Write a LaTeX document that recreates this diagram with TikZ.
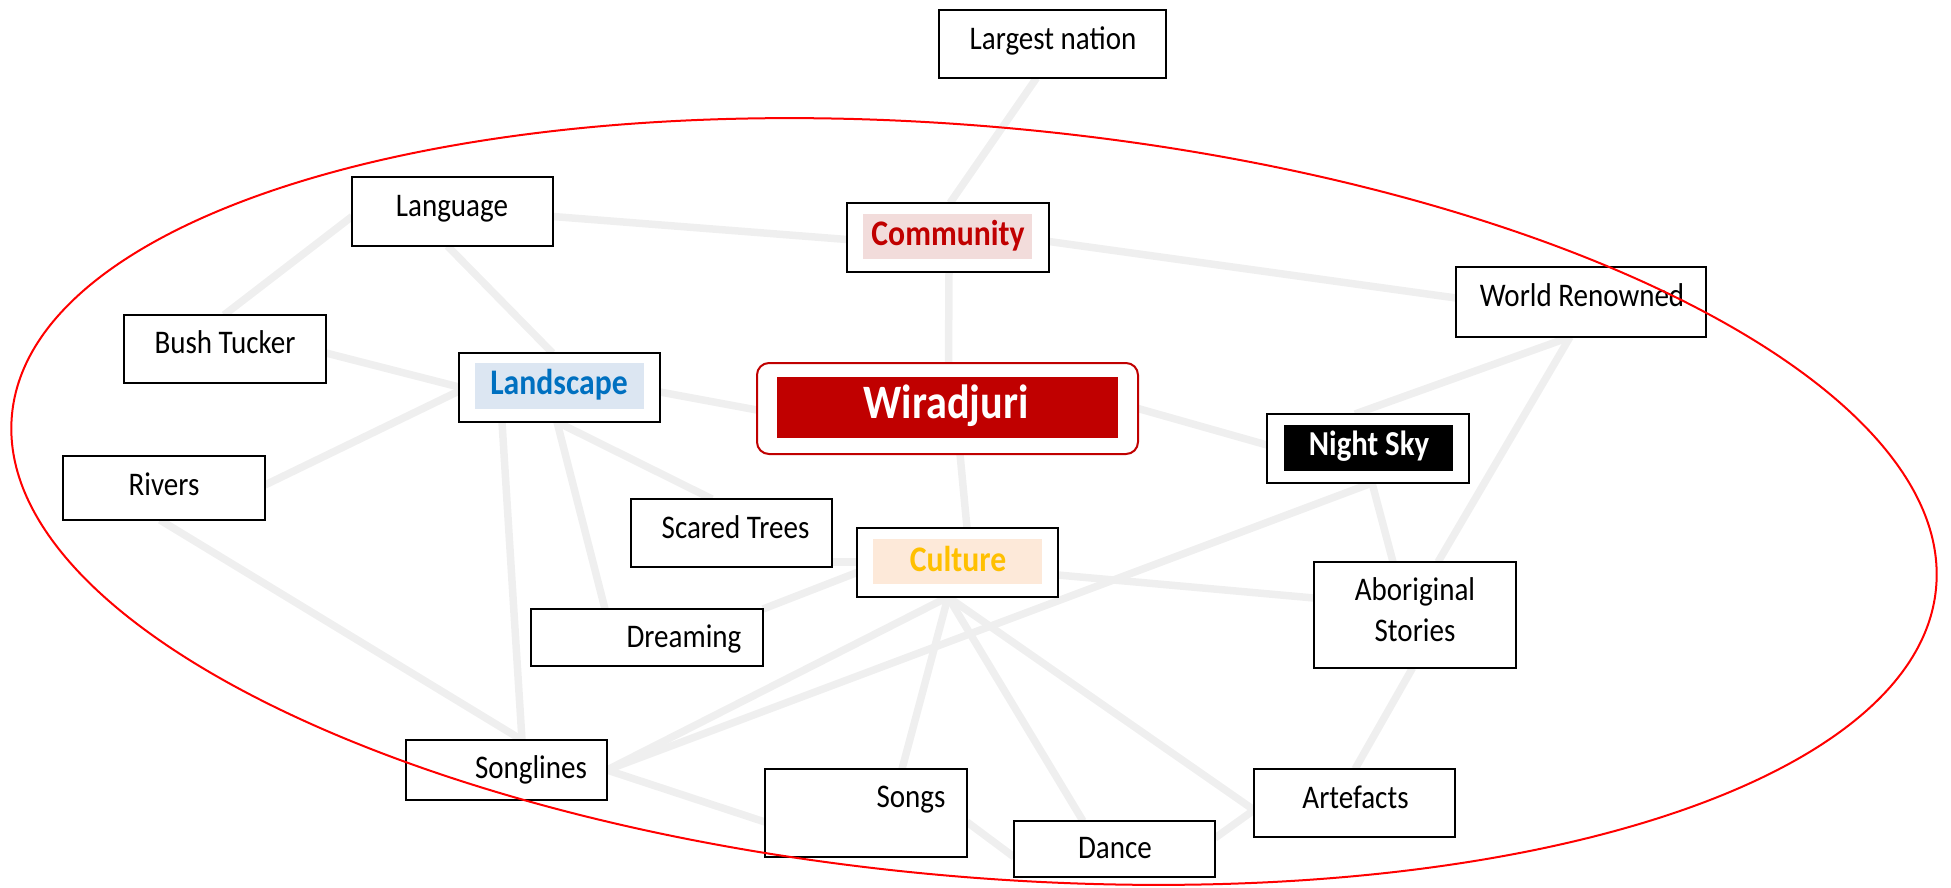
\documentclass[tikz,border=0pt]{standalone}
\usepackage{fontspec}
\setmainfont{Carlito}[FakeStretch=0.88]
\usetikzlibrary{calc}
\definecolor{linkgray}{RGB}{239,239,239}
\definecolor{wred}{RGB}{192,0,0}
\definecolor{commfill}{RGB}{242,220,219}
\definecolor{landfill}{RGB}{220,230,242}
\definecolor{landtext}{RGB}{0,112,192}
\definecolor{cultfill}{RGB}{253,233,217}
\definecolor{culttext}{RGB}{255,192,0}
\pgfdeclarelayer{links}
\pgfsetlayers{links,main}

\begin{document}
\begin{tikzpicture}[x=1pt,y=-1pt,
  box/.style={draw=black, line width=2pt, fill=white, inner sep=0pt, outer sep=0pt},
  link/.style={draw=linkgray, line width=7.5pt},
  lbl/.style={anchor=base, inner sep=0pt, font=\fontsize{33}{40}\selectfont},
  keylbl/.style={anchor=base, inner sep=0pt, font=\fontsize{36}{44}\selectfont\bfseries},
  hl/.style={inner sep=0pt, outer sep=0pt},
]
\useasboundingbox (0,0) rectangle (1951,887);

% ---- boxes (placed first so the links can refer to them) ----
\path
  node[box, minimum width=227pt, minimum height=68pt] (largest)    at (1052.5,44)  {}
  node[box, minimum width=201pt, minimum height=69pt] (language)   at (452.5,211.5) {}
  node[box, minimum width=202pt, minimum height=69pt] (community)  at (948,237.5)  {}
  node[box, minimum width=250pt, minimum height=70pt] (world)      at (1581,302)   {}
  node[box, minimum width=202pt, minimum height=68pt] (bush)       at (225,349)    {}
  node[box, minimum width=202pt, minimum height=64pt] (rivers)     at (164,488)    {}
  node[box, minimum width=201pt, minimum height=69pt] (landscape)  at (559.5,387.5) {}
  node[box, draw=wred, rounded corners=12pt, minimum width=381pt, minimum height=91pt] (wiradjuri) at (947.5,408.5) {}
  node[box, minimum width=202pt, minimum height=69pt] (nightsky)   at (1368,448.5) {}
  node[box, minimum width=201pt, minimum height=68pt] (scared)     at (731.5,533)  {}
  node[box, minimum width=201pt, minimum height=69pt] (culture)    at (957.5,562.5) {}
  node[box, minimum width=232pt, minimum height=57pt] (dreaming)   at (647,637.5)  {}
  node[box, minimum width=202pt, minimum height=106pt] (aboriginal) at (1415,615)  {}
  node[box, minimum width=201pt, minimum height=60pt] (songlines)  at (506.5,770)  {}
  node[box, minimum width=202pt, minimum height=88pt] (songs)      at (866,813)    {}
  node[box, minimum width=201pt, minimum height=56pt] (dance)      at (1114.5,849) {}
  node[box, minimum width=201pt, minimum height=68pt] (artefacts)  at (1354.5,803) {};

% ---- links, drawn underneath the boxes ----
\begin{pgfonlayer}{links}
\draw[link] ($(largest.south)+(-16,0)$) -- ($(community.north)+(2,0)$);
\draw[link] ($(language.east)+(0,5)$) -- ($(community.west)+(0,2)$);
\draw[link] ($(community.east)+(0,4)$) -- ($(world.west)+(0,-4)$);
\draw[link] ($(community.south)+(1,0)$) -- ($(wiradjuri.north)+(1,0)$);
\draw[link] ($(language.west)+(0,5)$) -- ($(bush.north)+(-1,0)$);
\draw[link] ($(language.south)+(-5,0)$) -- ($(landscape.north)+(-7,0)$);
\draw[link] ($(bush.east)+(0,4)$) -- ($(landscape.west)+(0,-0.5)$);
\draw[link] ($(landscape.west)+(0,3.5)$) -- ($(rivers.east)+(0,-3)$);
\draw[link] ($(landscape.east)+(0,4.5)$) -- ($(wiradjuri.west)+(0,1.5)$);
\draw[link] (wiradjuri.east) -- ($(nightsky.west)+(0,-3.5)$);
\draw[link] ($(world.south)+(-11,0)$) -- ($(nightsky.north)+(-13,0)$);
\draw[link] ($(world.south)+(-11,0)$) -- ($(aboriginal.north)+(23,0)$);
\draw[link] ($(nightsky.south)+(4,0)$) -- ($(aboriginal.north)+(-22,0)$);
\draw[link] ($(nightsky.south)+(4,0)$) -- (songlines.east);
\draw[link] ($(wiradjuri.south)+(12.5,0)$) -- ($(culture.north)+(9.5,0)$);
\draw[link] ($(landscape.south)+(-2.5,0)$) -- ($(scared.north)+(-19.5,0)$);
\draw[link] ($(landscape.south)+(-2.5,0)$) -- ($(dreaming.north)+(-42,0)$);
\draw[link] ($(landscape.south)+(-57.5,0)$) -- ($(songlines.north)+(15.5,0)$);
\draw[link] ($(rivers.south)+(-4,0)$) -- ($(songlines.north)+(15.5,0)$);
\draw[link] ($(culture.east)+(0,12.5)$) -- ($(aboriginal.west)+(0,-17)$);
\draw[link] ($(culture.west)+(0,10)$) -- (dreaming.north east);
\draw[link] ($(scared.east)+(0,29)$) -- ($(culture.west)+(0,-0.5)$);
\draw[link] ($(culture.south)+(-9.5,0)$) -- (songlines.east);
\draw[link] ($(culture.south)+(-9.5,0)$) -- ($(songs.north)+(36,0)$);
\draw[link] ($(culture.south)+(-9.5,0)$) -- ($(dance.north)+(-31.5,0)$);
\draw[link] ($(culture.south)+(-9.5,0)$) -- ($(artefacts.west)+(0,7)$);
\draw[link] (songlines.east) -- ($(songs.west)+(0,9)$);
\draw[link] ($(songs.east)+(0,9)$) -- ($(dance.west)+(0,8)$);
\draw[link] ($(dance.east)+(0,-11)$) -- ($(artefacts.west)+(0,7)$);
\draw[link] ($(aboriginal.south)+(-2.5,0)$) -- ($(artefacts.north)+(0.5,0)$);
\end{pgfonlayer}

% ---- highlight panels behind the key words ----
\node[hl, fill=commfill, minimum width=169pt, minimum height=45pt] (commhl) at (947.5,236.5) {};
\node[hl, fill=landfill, minimum width=169pt, minimum height=46pt] (landhl) at (559.5,386) {};
\node[hl, fill=wred, minimum width=341pt, minimum height=61pt] (wirahl) at (947.5,407.5) {};
\node[hl, fill=black, minimum width=169pt, minimum height=46pt] (nighthl) at (1368.5,448) {};
\node[hl, fill=cultfill, minimum width=169pt, minimum height=45pt] (culthl) at (957.5,561.5) {};

% ---- labels ----
\node[lbl] (largesttxt) at (1053,49) {Largest nation};
\node[lbl] (languagetxt) at (452,216) {Language};
\node[keylbl, text=wred] (commtxt) at (948,245) {Community};
\node[lbl] (worldtxt) at (1582,306) {World Renowned};
\node[lbl] (bushtxt) at (225,353) {Bush Tucker};
\node[keylbl, text=landtext] (landtxt) at (559,394) {Landscape};
\node[anchor=base, inner sep=0pt, text=white, font=\fontsize{48}{56}\selectfont\bfseries] (wiratxt) at (946,418) {Wiradjuri};
\node[anchor=base, inner sep=0pt, text=white, font=\fontsize{35}{40}\selectfont\bfseries] (nighttxt) at (1369,455) {Night Sky};
\node[lbl] (riverstxt) at (164,495) {Rivers};
\node[lbl] (scaredtxt) at (735.5,538) {Scared Trees};
\node[keylbl, text=culttext] (culttxt) at (958,571) {Culture};
\node[lbl] (abotxta) at (1415,600) {Aboriginal};
\node[lbl] (abotxtb) at (1415,641) {Stories};
\node[lbl] (dreamtxt) at (684,647) {Dreaming};
\node[lbl] (songlinestxt) at (531,778) {Songlines};
\node[lbl] (songstxt) at (911,807) {Songs};
\node[lbl] (dancetxt) at (1115,858) {Dance};
\node[lbl] (artefactstxt) at (1355.5,808) {Artefacts};

% ---- enclosing red ellipse ----
\draw[red, line width=2pt, rotate around={-5.12:(974,501.5)}]
  (974,501.5) ellipse [x radius=966pt, y radius=375pt];
\end{tikzpicture}
\end{document}
